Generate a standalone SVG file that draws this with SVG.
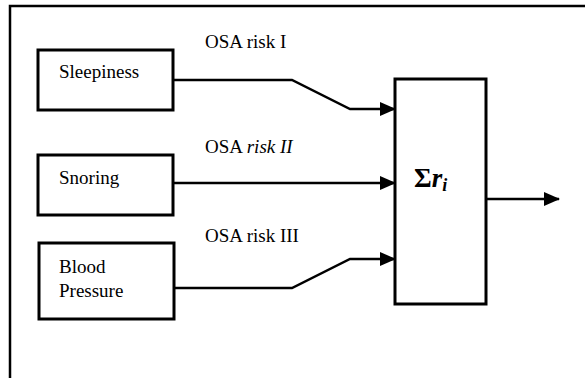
<svg xmlns="http://www.w3.org/2000/svg" width="585" height="378" viewBox="0 0 585 378">
<style>
.box{fill:#fff;stroke:#000;stroke-width:3}
.t{font-family:"Liberation Serif",serif;font-size:19px;fill:#000}
.c{fill:none;stroke:#000;stroke-width:2.5}
</style>
<defs>
<marker id="ah" markerWidth="16" markerHeight="14" refX="15" refY="7" orient="auto" markerUnits="userSpaceOnUse">
<path d="M0,0 L16,7 L0,14 Z" fill="#000"/>
</marker>
</defs>
<rect width="585" height="378" fill="#fff"/>
<g id="frame"><path d="M10,378 V6 H585" fill="none" stroke="#000" stroke-width="2.5"/></g>
<g id="sleepiness"><rect class="box" x="38" y="50" width="135" height="60"/><text class="t" x="59" y="78">Sleepiness</text></g>
<g id="snoring"><rect class="box" x="38" y="155" width="135" height="60"/><text class="t" x="59" y="184">Snoring</text></g>
<g id="blood"><rect class="box" x="39" y="243" width="135" height="76"/><text class="t" x="59" y="273">Blood</text><text class="t" x="59" y="297">Pressure</text></g>
<g id="sum"><rect class="box" x="395" y="79" width="91" height="225"/><text x="414" y="187" font-family="Liberation Serif,serif" font-weight="bold" font-size="27"><tspan>Σ</tspan><tspan font-style="italic">r</tspan><tspan font-style="italic" font-size="18" dy="4">i</tspan></text></g>
<g id="connectors">
<path class="c" d="M173,80 H292 L350,109 H395" marker-end="url(#ah)"/>
<path class="c" d="M173,183 H395" marker-end="url(#ah)"/>
<path class="c" d="M174,288 H292 L350,259 H395" marker-end="url(#ah)"/>
<path class="c" d="M486,199 H559" marker-end="url(#ah)"/>
</g>
<g id="labels">
<text class="t" x="205" y="48">OSA risk I</text>
<text class="t" x="205" y="153">OSA <tspan font-style="italic">risk II</tspan></text>
<text class="t" x="205" y="242">OSA risk III</text>
</g>
</svg>
